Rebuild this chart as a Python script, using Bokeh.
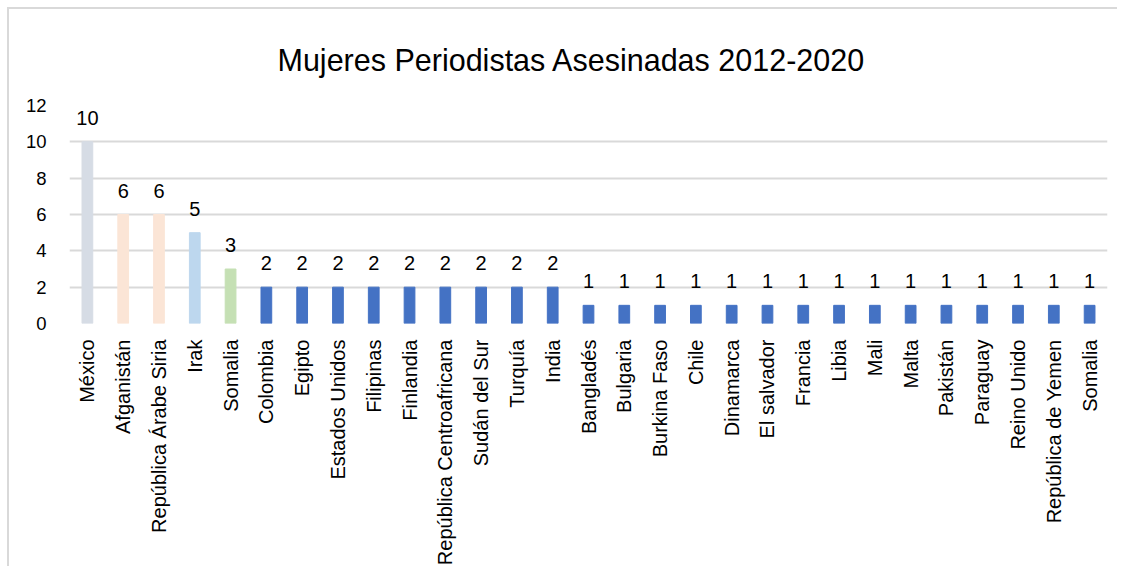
from math import pi
from bokeh.plotting import figure
from bokeh.models import (ColumnDataSource, FixedTicker, Range1d, LabelSet)
from bokeh.core.properties import value
from bokeh.embed import file_html
from bokeh.resources import INLINE

# ---- data ----
countries = ["México", "Afganistán", "República Árabe Siria", "Irak", "Somalia",
             "Colombia", "Egipto", "Estados Unidos", "Filipinas", "Finlandia",
             "República Centroafricana", "Sudán del Sur", "Turquía", "India",
             "Bangladés", "Bulgaria", "Burkina Faso", "Chile", "Dinamarca",
             "El salvador", "Francia", "Libia", "Mali", "Malta", "Pakistán",
             "Paraguay", "Reino Unido", "República de Yemen", "Somalia"]
values = [10, 6, 6, 5, 3, 2, 2, 2, 2, 2, 2, 2, 2, 2,
          1, 1, 1, 1, 1, 1, 1, 1, 1, 1, 1, 1, 1, 1, 1]
bar_colors = ["#D6DCE5", "#FBE5D6", "#FBE5D6", "#BDD7EE", "#C5E0B4"] + ["#4472C4"] * 24
y_ticks = [0, 2, 4, 6, 8, 10, 12]
title_text = "Mujeres Periodistas Asesinadas 2012-2020"

FONT = "Liberation Sans"
n = len(countries)
xs = list(range(n))

src = ColumnDataSource(dict(x=xs, top=values, color=bar_colors,
                            lbl=[str(v) for v in values]))

p = figure(width=1110, height=559, output_backend="svg", toolbar_location=None,
           x_range=Range1d(-0.5, n - 0.5), y_range=Range1d(0, 12),
           min_border_left=60, min_border_right=12, min_border_top=96,
           min_border_bottom=10)

p.title.text = title_text
p.title.align = "left"
p.title.offset = 208
p.title.text_font = FONT
p.title.text_font_size = "30.5px"
p.title.text_font_style = "normal"
p.title.text_color = "#000000"
p.title.standoff = 58

p.vbar(x="x", top="top", width=0.3, color="color", source=src)

labels = LabelSet(x="x", y="top", text="lbl", source=src, text_align="center",
                  text_baseline="alphabetic", y_offset=17, text_font=value(FONT),
                  text_font_size=value("20px"), text_color=value("#000000"))
p.add_layout(labels)

p.xaxis.ticker = FixedTicker(ticks=xs)
p.xaxis.major_label_overrides = {i: c for i, c in enumerate(countries)}
p.xaxis.major_label_orientation = pi / 2
p.xaxis.major_label_text_font = FONT
p.xaxis.major_label_text_font_size = "20px"
p.xaxis.major_label_text_color = "#000000"
p.xaxis.major_label_standoff = 10

p.yaxis.ticker = FixedTicker(ticks=y_ticks)
p.yaxis.major_label_text_font = FONT
p.yaxis.major_label_text_font_size = "18.5px"
p.yaxis.major_label_text_color = "#000000"
p.yaxis.major_label_standoff = 17

for ax in (p.xaxis, p.yaxis):
    ax.axis_line_color = None
    ax.major_tick_line_color = None
    ax.minor_tick_line_color = None

p.xgrid.grid_line_color = None
p.ygrid.ticker = FixedTicker(ticks=y_ticks)
p.ygrid.grid_line_color = "#D9D9D9"
p.ygrid.grid_line_width = 2
p.outline_line_color = None
p.styles = {"border-top": "2px solid #D9D9D9", "border-left": "2px solid #D9D9D9",
            "margin-top": "7px", "margin-left": "7px"}

open("out.html", "w").write(file_html(p, INLINE))
